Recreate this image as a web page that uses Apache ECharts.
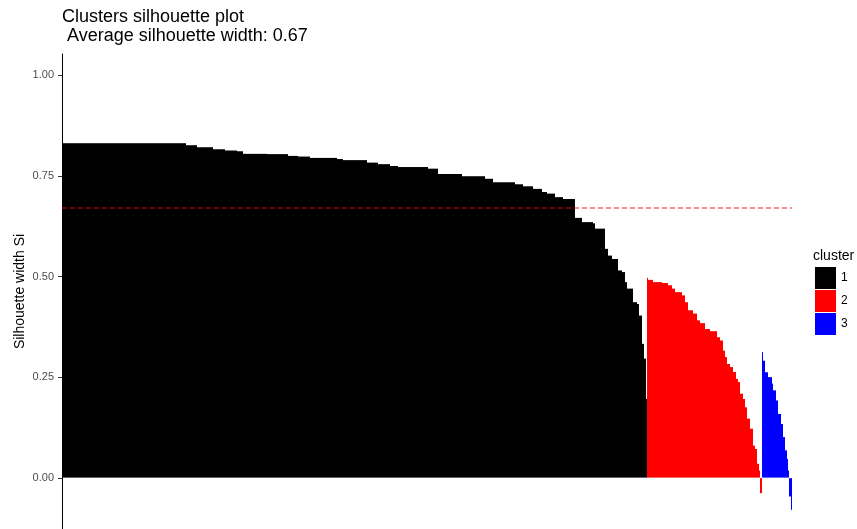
<!DOCTYPE html>
<html>
<head>
<meta charset="utf-8">
<script src="https://cdn.jsdelivr.net/npm/echarts@6/dist/echarts.min.js"></script>
<style>
  html, body { margin: 0; padding: 0; background: #ffffff; }
  #chart { width: 857px; height: 529px; }
</style>
</head>
<body>
<div id="chart"></div>
<script>
// Silhouette widths, sorted within each cluster. Each value is paired with the
// number of consecutive observations that share it.
const cluster1Values = [0.832, 0.827, 0.822, 0.817, 0.814, 0.812, 0.806, 0.805, 0.801, 0.799,
  0.796, 0.793, 0.790, 0.784, 0.780, 0.776, 0.773, 0.769, 0.756, 0.750,
  0.744, 0.735, 0.730, 0.725, 0.719, 0.711, 0.707, 0.698, 0.694, 0.647,
  0.636, 0.633, 0.620, 0.570, 0.553, 0.545, 0.516, 0.512, 0.487, 0.471,
  0.437, 0.433, 0.404, 0.334, 0.297, 0.197];
const cluster1Counts = [124, 11, 16, 12, 12, 6, 24, 21, 10, 12,
  27, 6, 24, 11, 12, 8, 30, 10, 24, 23,
  8, 22, 8, 10, 9, 5, 8, 8, 12, 7,
  11, 2, 10, 3, 4, 6, 4, 3, 2, 6,
  4, 2, 3, 2, 2, 1];

const cluster2Values = [0.498, 0.493, 0.487, 0.485, 0.479, 0.471, 0.462, 0.454, 0.437, 0.417,
  0.409, 0.392, 0.385, 0.371, 0.365, 0.350, 0.342, 0.317, 0.301, 0.284,
  0.276, 0.264, 0.247, 0.239, 0.210, 0.197, 0.176, 0.148, 0.123, 0.081,
  0.073, 0.036, 0.019, -0.039];
const cluster2Counts = [1, 5, 9, 6, 4, 3, 7, 3, 3, 5,
  4, 3, 5, 5, 7, 3, 3, 2, 2, 3,
  3, 3, 2, 2, 3, 2, 2, 3, 3, 2,
  2, 2, 1, 2];

const cluster3Values = [0.313, 0.292, 0.263, 0.251, 0.235, 0.218, 0.193, 0.160, 0.135, 0.102,
  0.069, 0.048, 0.019, -0.047, -0.080];
const cluster3Counts = [1, 2, 3, 4, 1, 3, 2, 3, 2, 2,
  2, 1, 1, 2, 1];

const clusterNames = ['1', '2', '3'];
const clusterColors = ['#000000', '#FF0000', '#0000FF'];
const averageWidth = 0.666;
const yTicks = [0, 0.25, 0.5, 0.75, 1];

// One entry per observation, in plotting order.
const observations = [];
[[cluster1Values, cluster1Counts], [cluster2Values, cluster2Counts], [cluster3Values, cluster3Counts]]
  .forEach(([vals, counts], c) => {
    vals.forEach((v, i) => {
      for (let k = 0; k < counts[i]; k++) observations.push({ cluster: c, value: v });
    });
  });
const categories = observations.map((o, i) => 'obs' + (i + 1));

// Bars are one pixel wide; a stroke in the fill colour closes the seams between them.
const series = clusterNames.map((name, c) => ({
  name: name,
  type: 'bar',
  barWidth: '100%',
  barGap: '-100%',
  barCategoryGap: '0%',
  itemStyle: { color: clusterColors[c], borderColor: clusterColors[c], borderWidth: 1 },
  emphasis: { disabled: true },
  data: observations.map(o => (o.cluster === c ? o.value : '-'))
}));

series[0].markLine = {
  silent: true,
  symbol: 'none',
  label: { show: false },
  lineStyle: { color: 'rgba(255,0,0,0.6)', type: [5, 3], width: 1.5 },
  data: [{ yAxis: averageWidth }]
};

const chart = echarts.init(document.getElementById('chart'), null, { renderer: 'canvas' });
chart.setOption({
  animation: false,
  textStyle: { fontFamily: 'Liberation Sans, Arial, sans-serif' },
  title: {
    text: 'Clusters silhouette plot\n Average silhouette width: 0.67',
    left: 62,
    top: 8,
    padding: 0,
    textStyle: { fontSize: 18, fontWeight: 'normal', color: '#000000', lineHeight: 19,
      fontFamily: 'Liberation Sans, Arial, sans-serif' }
  },
  legend: {
    data: clusterNames,
    orient: 'vertical',
    left: 815,
    top: 267,
    padding: 0,
    itemGap: 1,
    itemWidth: 21,
    itemHeight: 22,
    icon: 'rect',
    selectedMode: false,
    itemStyle: { borderWidth: 0 },
    textStyle: { fontSize: 12, color: '#000000', fontFamily: 'Liberation Sans, Arial, sans-serif' }
  },
  graphic: [{
    type: 'text',
    left: 813,
    top: 249,
    style: { text: 'cluster', fontSize: 14, fill: '#000000', fontFamily: 'Liberation Sans, Arial, sans-serif' }
  }],
  grid: { left: 62, top: 54, width: 730, bottom: 0, containLabel: false },
  xAxis: {
    type: 'category',
    data: categories,
    boundaryGap: true,
    axisLine: { show: false },
    axisTick: { show: false },
    axisLabel: { show: false },
    splitLine: { show: false }
  },
  yAxis: {
    type: 'value',
    min: -0.127,
    max: 1.053,
    name: 'Silhouette width Si',
    nameLocation: 'middle',
    nameRotate: 90,
    nameGap: 35,
    nameMoveOverlap: false,
    nameTextStyle: { fontSize: 14, color: '#000000', fontFamily: 'Liberation Sans, Arial, sans-serif' },
    axisLine: { show: true, onZero: false, lineStyle: { color: '#000000', width: 1 } },
    axisTick: { show: true, length: 4, customValues: yTicks, lineStyle: { color: '#333333', width: 1 } },
    axisLabel: {
      show: true,
      customValues: yTicks,
      margin: 8,
      fontSize: 11,
      color: '#4D4D4D',
      fontFamily: 'Liberation Sans, Arial, sans-serif',
      formatter: v => v.toFixed(2)
    },
    splitLine: { show: false }
  },
  series: series
});
</script>
</body>
</html>
